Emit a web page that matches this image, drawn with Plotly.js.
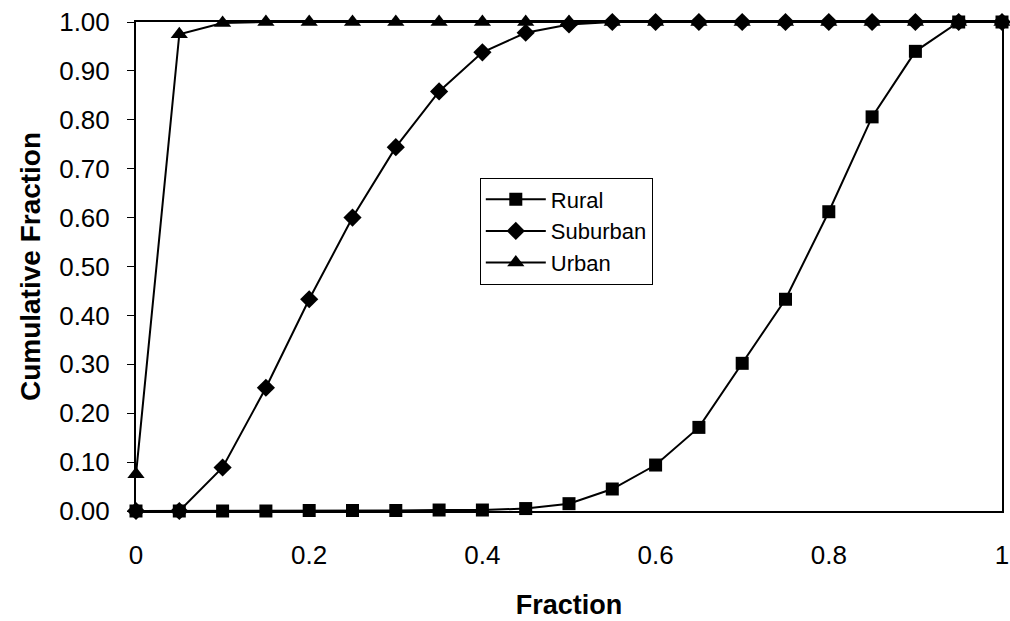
<!DOCTYPE html>
<html>
<head>
<meta charset="utf-8">
<script src="https://cdn.plot.ly/plotly-3.0.1.min.js"></script>
<style>html,body{margin:0;padding:0;background:#fff;}#chart{width:1010px;height:621px;}</style>
</head>
<body>
<div id="chart"></div>
<script>
const fractions = [0, 0.05, 0.1, 0.15, 0.2, 0.25, 0.3, 0.35, 0.4, 0.45, 0.5, 0.55, 0.6, 0.65, 0.7, 0.75, 0.8, 0.85, 0.9, 0.95, 1];
const rural    = [0, 0, 0, 0, 0.001, 0.001, 0.001, 0.002, 0.002, 0.005, 0.015, 0.045, 0.094, 0.171, 0.302, 0.433, 0.612, 0.806, 0.94, 1.0, 1.0];
const suburban = [0, 0, 0.089, 0.252, 0.433, 0.6, 0.744, 0.858, 0.938, 0.978, 0.995, 1.0, 1.0, 1.0, 1.0, 1.0, 1.0, 1.0, 1.0, 1.0, 1.0];
const urban    = [0.075, 0.975, 0.998, 1.0, 1.0, 1.0, 1.0, 1.0, 1.0, 1.0, 1.0, 1.0, 1.0, 1.0, 1.0, 1.0, 1.0, 1.0, 1.0, 1.0, 1.0];
const seriesNames = ["Rural", "Suburban", "Urban"];
const xTickVals = [0, 0.2, 0.4, 0.6, 0.8, 1];
const xTickText = ["0", "0.2", "0.4", "0.6", "0.8", "1"];

const font = "Liberation Sans, Arial, sans-serif";
const lineStyle = {color: "#000", width: 2};
const traces = [
  {x: fractions, y: rural, name: seriesNames[0], mode: "lines+markers", line: lineStyle,
   marker: {symbol: "square", size: 13, color: "#000"}, cliponaxis: false},
  {x: fractions, y: suburban, name: seriesNames[1], mode: "lines+markers", line: lineStyle,
   marker: {symbol: "diamond", size: 14, color: "#000"}, cliponaxis: false},
  {x: fractions, y: urban, name: seriesNames[2], mode: "lines+markers", line: lineStyle,
   marker: {symbol: "triangle-up", size: 15, color: "#000"}, cliponaxis: false}
];

const layout = {
  width: 1010, height: 621,
  margin: {l: 136, r: 8, t: 22, b: 110, pad: 0},
  paper_bgcolor: "#fff", plot_bgcolor: "#fff",
  font: {family: font, color: "#000", size: 24},
  showlegend: true,
  legend: {x: 0.397, y: 0.682, xanchor: "left", yanchor: "top",
           bordercolor: "#000", borderwidth: 1, bgcolor: "#fff",
           font: {family: font, size: 22, color: "#000"}, tracegroupgap: 0,
           itemwidth: 60},
  xaxis: {
    range: [0, 1], tickvals: xTickVals, ticktext: xTickText,
    showgrid: false, zeroline: false, showline: true, linecolor: "#000", linewidth: 2,
    mirror: true, ticks: "", ticklabelstandoff: 20,
    tickfont: {family: font, size: 26, color: "#000"},
    title: {text: "<b>Fraction</b>", font: {family: font, size: 27, color: "#000"}, standoff: 26}
  },
  yaxis: {
    range: [0, 1.0], dtick: 0.1, tick0: 0, tickformat: ".2f",
    showgrid: false, zeroline: false, showline: true, linecolor: "#000", linewidth: 2,
    mirror: true, ticks: "outside", ticklen: 7, tickwidth: 1, tickcolor: "#000",
    ticklabelstandoff: 12,
    tickfont: {family: font, size: 26, color: "#000"},
    title: {text: "<b>Cumulative Fraction</b>", font: {family: font, size: 28, color: "#000"}, standoff: 10}
  }
};

Plotly.newPlot("chart", traces, layout, {displayModeBar: false, staticPlot: true});
</script>
</body>
</html>
